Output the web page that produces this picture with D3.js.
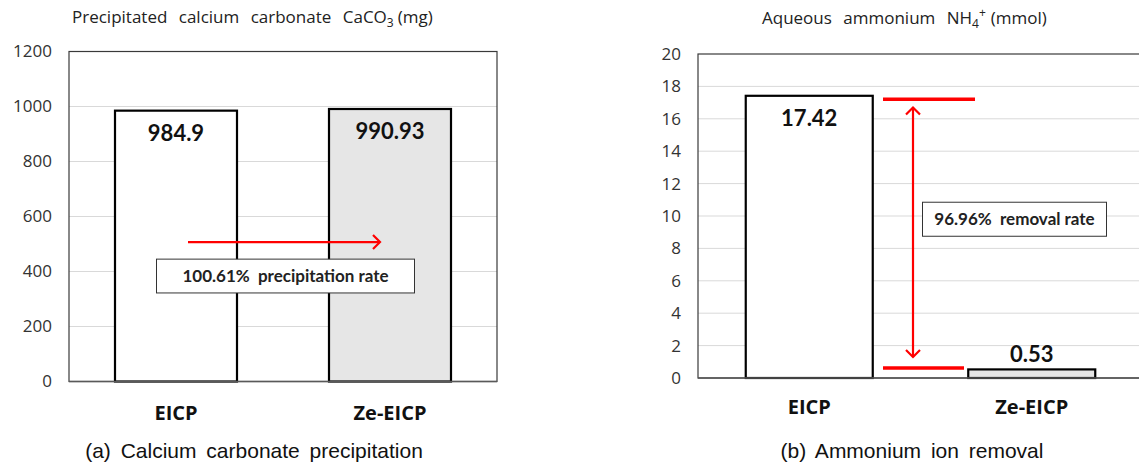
<!DOCTYPE html>
<html><head><meta charset="utf-8">
<script src="https://cdn.jsdelivr.net/npm/d3@7"></script>
<style>body{margin:0;background:#fff;}svg{display:block;}</style>
</head><body>
<svg id="c" width="1139" height="466"></svg>
<script>
const categories = ["EICP", "Ze-EICP"];
const caco3Values = [984.9, 990.93];
const caco3Labels = ["984.9", "990.93"];
const caco3Ticks = [0, 200, 400, 600, 800, 1000, 1200];
const nh4Values = [17.42, 0.53];
const nh4Labels = ["17.42", "0.53"];
const nh4Ticks = [0, 2, 4, 6, 8, 10, 12, 14, 16, 18, 20];
const barFills = ["#ffffff", "#e6e6e6"];
const captions = ["(a) Calcium carbonate precipitation", "(b) Ammonium ion removal"];
const annotA = ["100.61%  precipitation rate"];
const annotB = ["96.96%  removal rate"];
// annotation levels (data units)
const arrowAY = [507];
const boxAY = [445, 322];
const redLinesB = [17.2, 0.62];
const arrowBY = [16.7, 1.3];
const boxBY = [10.85, 8.75];

const svg = d3.select("#c");

function panel(o) {
  const g = svg.append("g");
  const xb = d3.scaleBand().domain(categories).range([o.left, o.right]);
  const y = d3.scaleLinear().domain([0, o.ticks[o.ticks.length-1]]).range([o.bottom, o.top]);
  // gridlines
  g.append("g").selectAll("line").data(o.ticks.slice(1, -1)).join("line")
    .attr("x1", o.left).attr("x2", o.right).attr("y1", d=>y(d)).attr("y2", d=>y(d))
    .attr("stroke", "#d9d9d9").attr("stroke-width", 1);
  // y axis labels
  const ax = d3.axisLeft(y).tickValues(o.ticks).tickFormat(d3.format("d")).tickSize(0).tickPadding(o.tickPad);
  const ag = g.append("g").attr("transform", `translate(${o.left},0)`).call(ax);
  ag.select(".domain").remove();
  ag.attr("font-size", null).attr("font-family", null);
  ag.selectAll("text").style("font-family", "'Open Sans', sans-serif").style("font-size", "17px").attr("fill", "#333");
  // plot border
  g.append("rect").attr("x", o.left).attr("y", o.top).attr("width", o.right-o.left).attr("height", o.bottom-o.top)
    .attr("fill", "none").attr("stroke", "#3a3a3a").attr("stroke-width", 1.2);
  // bars
  const bw = o.barW;
  g.append("g").selectAll("rect").data(o.values).join("rect")
    .attr("x", (d,i)=>xb(categories[i]) + xb.bandwidth()/2 - bw/2)
    .attr("y", d=>y(d)).attr("width", bw).attr("height", d=>o.bottom - y(d))
    .attr("fill", (d,i)=>barFills[i]).attr("stroke", "#000").attr("stroke-width", 2.2);
  // bottom axis line
  g.append("line").attr("x1", o.left).attr("x2", o.right).attr("y1", o.bottom).attr("y2", o.bottom)
    .attr("stroke", "#595959").attr("stroke-width", 1.5);
  // category labels
  const xa = d3.axisBottom(xb).tickSize(0).tickPadding(o.catPad);
  const xg = g.append("g").attr("transform", `translate(0,${o.bottom})`).call(xa);
  xg.select(".domain").remove();
  xg.attr("font-size", null).attr("font-family", null);
  xg.selectAll("text").style("font-family", "'Open Sans', sans-serif").style("font-weight", "bold").style("font-size", "20px").attr("fill", "#111");
  // value labels
  g.append("g").selectAll("text").data(o.values).join("text")
    .attr("x", (d,i)=>xb(categories[i]) + xb.bandwidth()/2)
    .attr("y", (d,i)=>o.labelInside[i] ? y(d) + 30 : y(d) - 7)
    .attr("text-anchor", "middle").attr("font-family", "Lato, sans-serif").attr("font-weight", "bold")
    .attr("font-size", 22).attr("fill", "#111").text((d,i)=>o.labels[i]);
  // title
  g.append("text").attr("x", o.titleX).attr("y", o.titleY).attr("font-family", "'Open Sans', sans-serif").attr("font-size", 17)
    .attr("fill", "#222").attr("word-spacing", 7).html(o.title);
  // caption
  g.append("text").attr("x", o.capX).attr("y", 458).attr("text-anchor", "middle").attr("font-family", "'Liberation Sans', Arial, sans-serif")
    .attr("font-size", 21).attr("fill", "#111").attr("word-spacing", 4).text(o.caption);
  return {g, x: xb, y};
}

const A = panel({left: 69, right: 497, top: 51.5, bottom: 381.5, ticks: caco3Ticks, values: caco3Values, labels: caco3Labels,
  barW: 122, tickPad: 17, catPad: 24, labelInside: [true, true], titleX: 72, titleY: 23,
  title: 'Precipitated calcium carbonate CaCO<tspan dy="4" font-size="12">3</tspan><tspan dy="-4" dx="4">(mg)</tspan>',
  capX: 254, caption: captions[0]});

const B = panel({left: 698, right: 1143, top: 54, bottom: 378, ticks: nh4Ticks, values: nh4Values, labels: nh4Labels,
  barW: 127, tickPad: 17, catPad: 22, labelInside: [true, false], titleX: 762, titleY: 24,
  title: 'Aqueous ammonium NH<tspan dy="4" font-size="12">4</tspan><tspan dy="-11" font-size="12">+</tspan><tspan dy="7" dx="5">(mmol)</tspan>',
  capX: 912, caption: captions[1]});

// ---- annotations
const red = "#ff0000";
function arrowHead(g, x, y, dir) {
  const s = 7;
  let pts;
  if (dir === "right") pts = [[x - s, y - s], [x, y], [x - s, y + s]];
  if (dir === "up") pts = [[x - s, y + s], [x, y], [x + s, y + s]];
  if (dir === "down") pts = [[x - s, y - s], [x, y], [x + s, y - s]];
  g.append("polyline").attr("points", pts.map(p=>p.join(",")).join(" ")).attr("fill", "none")
    .attr("stroke", red).attr("stroke-width", 2.2);
}
{
  const g = A.g, y = A.y;
  const ya = y(arrowAY[0]);
  g.append("line").attr("x1", 188).attr("x2", 380).attr("y1", ya).attr("y2", ya).attr("stroke", red).attr("stroke-width", 2.2);
  arrowHead(g, 380, ya, "right");
  g.append("rect").attr("x", 156.5).attr("y", y(boxAY[0])).attr("width", 258).attr("height", y(boxAY[1]) - y(boxAY[0]))
    .attr("fill", "#fff").attr("stroke", "#333").attr("stroke-width", 1);
  g.append("text").attr("x", 285.5).attr("y", (y(boxAY[0]) + y(boxAY[1]))/2 + 6).attr("text-anchor", "middle")
    .attr("font-family", "Lato, sans-serif").attr("font-weight", "bold").attr("font-size", 17).attr("fill", "#222")
    .attr("xml:space", "preserve").text(annotA[0]);
}
{
  const g = B.g, y = B.y;
  g.append("line").attr("x1", 883).attr("x2", 975).attr("y1", y(redLinesB[0])).attr("y2", y(redLinesB[0])).attr("stroke", red).attr("stroke-width", 3.5);
  g.append("line").attr("x1", 883).attr("x2", 964).attr("y1", y(redLinesB[1])).attr("y2", y(redLinesB[1])).attr("stroke", red).attr("stroke-width", 3.5);
  g.append("line").attr("x1", 913).attr("x2", 913).attr("y1", y(arrowBY[0])).attr("y2", y(arrowBY[1])).attr("stroke", red).attr("stroke-width", 2.2);
  arrowHead(g, 913, y(arrowBY[0]), "up");
  arrowHead(g, 913, y(arrowBY[1]), "down");
  g.append("rect").attr("x", 922.5).attr("y", y(boxBY[0])).attr("width", 184).attr("height", y(boxBY[1]) - y(boxBY[0]))
    .attr("fill", "#fff").attr("stroke", "#333").attr("stroke-width", 1);
  g.append("text").attr("x", 1014.5).attr("y", (y(boxBY[0]) + y(boxBY[1]))/2 + 6).attr("text-anchor", "middle")
    .attr("font-family", "Lato, sans-serif").attr("font-weight", "bold").attr("font-size", 17).attr("fill", "#222")
    .attr("xml:space", "preserve").text(annotB[0]);
}
</script>
</body></html>
